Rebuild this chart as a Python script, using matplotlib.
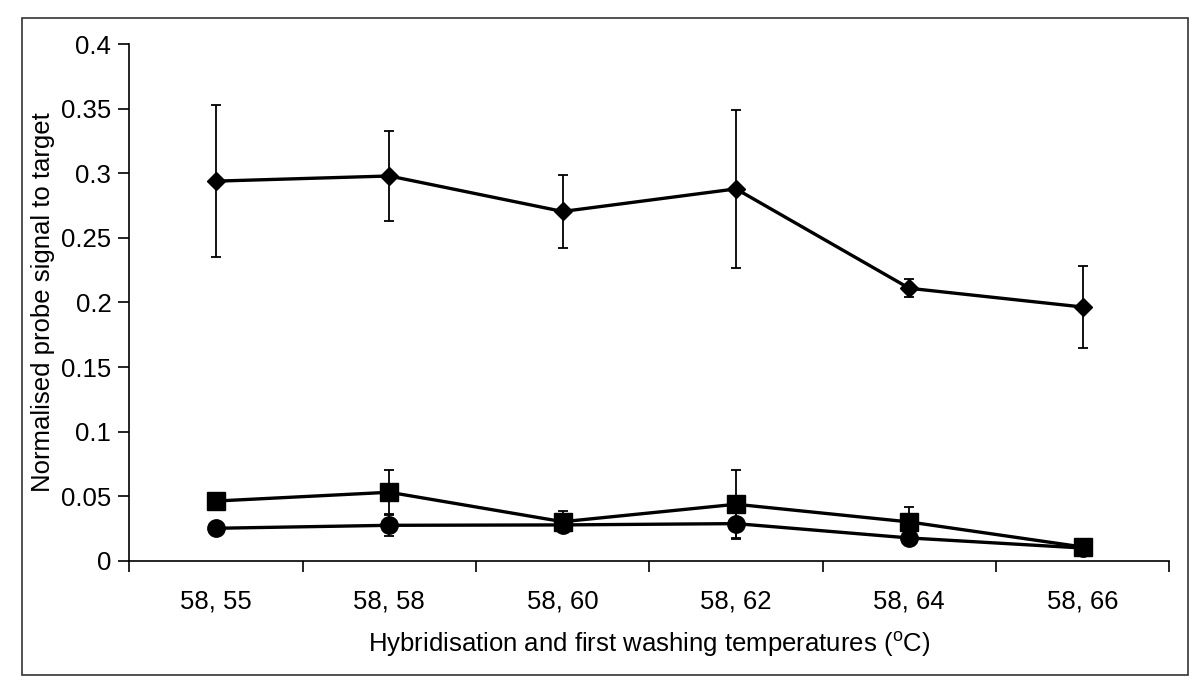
import matplotlib
matplotlib.use('Agg')
import matplotlib.pyplot as plt
import numpy as np
from matplotlib.patches import Rectangle
from matplotlib.ticker import FuncFormatter

plt.rcParams['font.family'] = ['Liberation Sans', 'DejaVu Sans']
plt.rcParams['mathtext.fontset'] = 'custom'
plt.rcParams['mathtext.rm'] = 'Liberation Sans'

labels = ['58, 55', '58, 58', '58, 60', '58, 62', '58, 64', '58, 66']

# diamonds (target probe)
diamond_mean = [0.294, 0.298, 0.2705, 0.288, 0.211, 0.1965]
diamond_err = [0.059, 0.0345, 0.028, 0.061, 0.007, 0.032]

# squares
square_mean = [0.0462, 0.053, 0.0302, 0.0437, 0.030, 0.0106]
square_err = [0.0, 0.0175, 0.008, 0.0266, 0.0116, 0.0]

# circles
circle_mean = [0.0251, 0.0274, 0.0277, 0.0287, 0.0176, 0.0098]
circle_err = [0.0, 0.0085, 0.004, 0.0114, 0.003, 0.0]

fig = plt.figure(figsize=(12, 6.91), dpi=100)
ax = fig.add_axes([0.1078, 0.1886, 0.8666, 0.7473])

x = np.arange(len(labels))
common = dict(color='black', ecolor='black', elinewidth=1.3, capsize=3.4, capthick=1.3, lw=2.4)
ax.errorbar(x, diamond_mean, yerr=diamond_err, marker='D', ms=9.5, **common)
ax.errorbar(x, square_mean, yerr=square_err, marker='s', ms=12.5, **common)
ax.errorbar(x, circle_mean, yerr=circle_err, marker='o', ms=12.5, **common)

ax.set_xlim(-0.5, len(labels) - 0.5)
ax.set_ylim(0, 0.4)
ax.set_yticks(np.arange(0, 0.401, 0.05))
ax.yaxis.set_major_formatter(FuncFormatter(lambda v, p: f'{v:g}'))
ax.set_xticks(np.arange(-0.5, len(labels), 1.0))
ax.set_xticklabels([])
ax.set_xticks(x, minor=True)
ax.set_xticklabels(labels, minor=True)
ax.tick_params(axis='x', which='minor', length=0, labelsize=18.5, pad=21)
ax.tick_params(axis='x', which='major', length=8, width=1.2, direction='out')
ax.tick_params(axis='y', length=8, width=1.2, direction='out', labelsize=18.5, pad=5)

for side in ['top', 'right']:
    ax.spines[side].set_visible(False)
for side in ['left', 'bottom']:
    ax.spines[side].set_linewidth(1.2)

ax.set_ylabel('Normalised probe signal to target', fontsize=18.5, labelpad=4)
ax.set_xlabel(r'Hybridisation and first washing temperatures ($^{\mathrm{o}}$C)', fontsize=18.5, labelpad=11)

fig.patches.append(Rectangle((0.0183, 0.0232), 0.9717, 0.9508, transform=fig.transFigure,
                             fill=False, edgecolor='#333333', linewidth=1.2))

fig.savefig('out.png', dpi=100)
